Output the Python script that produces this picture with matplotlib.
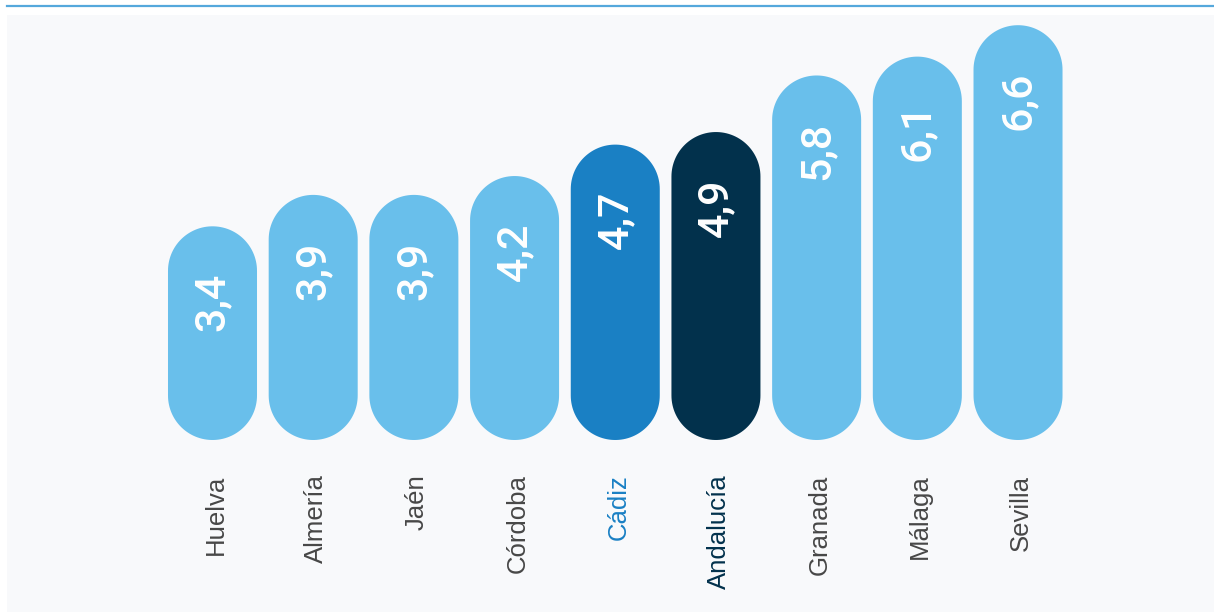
import numpy as np
import matplotlib
matplotlib.use("Agg")
import matplotlib.pyplot as plt
from matplotlib.patches import Polygon
from matplotlib.lines import Line2D

# datos
provincias = ["Huelva", "Almería", "Jaén", "Córdoba", "Cádiz", "Andalucía", "Granada", "Málaga", "Sevilla"]
valores = [3.4, 3.9, 3.9, 4.2, 4.7, 4.9, 5.8, 6.1, 6.6]
etiquetas = ["3,4", "3,9", "3,9", "4,2", "4,7", "4,9", "5,8", "6,1", "6,6"]

azul_claro = "#69bfeb"
azul_cadiz = "#1a80c4"
azul_osc = "#02314c"
colores = [azul_claro] * 9
colores[4] = azul_cadiz
colores[5] = azul_osc
col_texto = ["#474747"] * 9
col_texto[4] = azul_cadiz
col_texto[5] = azul_osc

W, H = 1214, 612
fig = plt.figure(figsize=(W / 100, H / 100), dpi=100)
fig.patch.set_facecolor("white")

# linea azul superior
fig.lines.append(Line2D([7 / W, 1], [1 - 6 / H, 1 - 6 / H], transform=fig.transFigure,
                        color="#55a8dc", linewidth=1.6))

# el panel gris es el propio fondo del eje
ax = fig.add_axes([7 / W, 0, 1 - 7 / W, (H - 15) / H])
ax.set_facecolor("#f8f9fb")
for s in ax.spines.values():
    s.set_visible(False)
ax.set_xticks([])
ax.set_yticks([])

px_y = 62.85   # pixeles por unidad
px_x = 100.69  # pixeles por categoria
ax.set_xlim((7 - 212.5) / px_x, (1214 - 212.5) / px_x)
ax.set_ylim(-(612 - 440) / px_y, (440 - 15) / px_y)

ancho = 0.884
rx = ancho / 2
ry = rx * px_x / px_y

t = np.linspace(0, np.pi, 60)
for i, v in enumerate(valores):
    arriba = np.column_stack([i + rx * np.cos(t), v - ry + ry * np.sin(t)])
    abajo = np.column_stack([i - rx * np.cos(t), ry - ry * np.sin(t)])
    ax.add_patch(Polygon(np.vstack([arriba, abajo]), closed=True, facecolor=colores[i],
                         edgecolor="none", zorder=2))
    ax.text(i, v - 0.74, etiquetas[i], rotation=90, ha="center", va="top",
            color="white", fontsize=31, family="Roboto", fontweight="medium", zorder=3)
    ax.text(i + 0.03, -0.55, provincias[i], rotation=90, ha="center", va="top",
            color=col_texto[i], fontsize=18.5, family="Liberation Sans")

fig.savefig("out.png", dpi=100)
